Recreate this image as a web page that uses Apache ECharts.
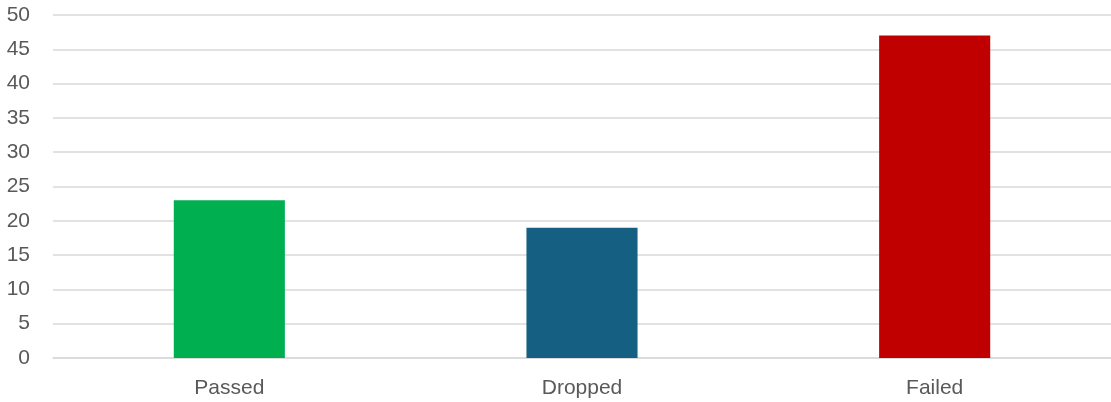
<!DOCTYPE html>
<html>
<head>
<meta charset="utf-8">
<script src="https://cdn.jsdelivr.net/npm/echarts@6/dist/echarts.min.js"></script>
<style>
  html, body { margin: 0; padding: 0; background: #fff; }
  #chart { width: 1111px; height: 402px; }
</style>
</head>
<body>
<div id="chart"></div>
<script>
// 数据
var categories = ['Passed', 'Dropped', 'Failed'];
var counts = [23, 19, 47];
var barColors = ['#00B050', '#156082', '#C00000'];
var yTicks = [0, 5, 10, 15, 20, 25, 30, 35, 40, 45, 50];

var myChart = echarts.init(document.getElementById('chart'));
var options = {
    animation: false,
    grid: { left: 53, right: 0, top: 15, bottom: 44 },
    xAxis: {
        type: 'category',
        data: categories,
        axisTick: { show: false },
        axisLine: { lineStyle: { color: '#d9d9d9', width: 1.5 } },
        axisLabel: {
            color: '#595959',
            fontSize: 21,
            fontFamily: 'Liberation Sans',
            margin: 20
        }
    },
    yAxis: {
        type: 'value',
        min: yTicks[0],
        max: yTicks[yTicks.length - 1],
        interval: 5,
        axisLine: { show: false },
        axisTick: { show: false },
        splitLine: { lineStyle: { color: '#d9d9d9', width: 1.5 } },
        axisLabel: {
            color: '#595959',
            fontSize: 21,
            fontFamily: 'Liberation Sans',
            margin: 23
        }
    },
    series: [{
        type: 'bar',
        barWidth: '31.5%',
        data: counts.map(function (v, i) {
            return { value: v, itemStyle: { color: barColors[i] } };
        })
    }]
};
myChart.setOption(options);
</script>
</body>
</html>
